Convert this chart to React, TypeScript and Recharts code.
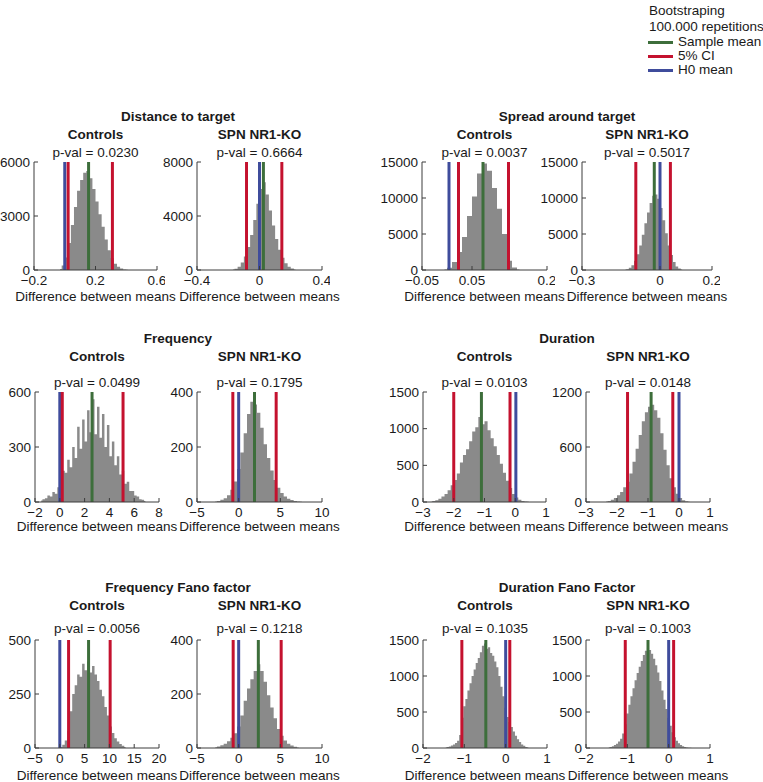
import React from 'react';
import { ComposedChart, Area, XAxis, YAxis, ReferenceLine } from 'recharts';

const FONT = '"Liberation Sans", Arial, Helvetica, sans-serif';
const TEXT = '#1a1a1a';
const AXIS = '#3c3c3c';
const HIST = '#8a8a8a';
const GREEN = '#3d6e3b';
const RED = '#c4122f';
const BLUE = '#3f4c9c';

// bin centres / counts; lines = [H0 mean, CI low, sample mean, CI high]
const distCtrlBins = [-0.03, -0.01, 0.01, 0.03, 0.05, 0.07, 0.09, 0.11, 0.13, 0.15, 0.17, 0.19, 0.21, 0.23, 0.25, 0.27, 0.29, 0.31, 0.33, 0.35, 0.37, 0.39, 0.41];
const distCtrlCounts = [50, 250, 700, 1500, 2500, 3500, 4400, 5000, 5400, 5500, 5100, 4500, 3800, 3100, 2400, 1700, 1100, 650, 350, 180, 80, 30, 10];
const distCtrlLines = [0, 0.022, 0.155, 0.31];

const distKoBins = [-0.17, -0.15, -0.13, -0.11, -0.09, -0.07, -0.05, -0.03, -0.01, 0.01, 0.03, 0.05, 0.07, 0.09, 0.11, 0.13, 0.15, 0.17, 0.19, 0.21, 0.23];
const distKoCounts = [30, 100, 250, 550, 1000, 1700, 2600, 3700, 4900, 6000, 6500, 5600, 4400, 3300, 2300, 1500, 900, 500, 250, 110, 40];
const distKoLines = [0, -0.083, 0.025, 0.143];

const spreadCtrlBins = [-0.005, 0.005, 0.015, 0.025, 0.035, 0.045, 0.055, 0.065, 0.075, 0.085, 0.095, 0.105, 0.115, 0.125, 0.135, 0.145];
const spreadCtrlCounts = [80, 300, 1100, 2500, 4600, 7500, 10200, 13400, 14800, 13800, 11400, 8500, 5000, 1300, 350, 80];
const spreadCtrlLines = [0.004, 0.023, 0.072, 0.123];

const spreadKoBins = [-0.135, -0.125, -0.115, -0.105, -0.095, -0.085, -0.075, -0.065, -0.055, -0.045, -0.035, -0.025, -0.015, -0.005, 0.005, 0.015, 0.025, 0.035, 0.045, 0.055, 0.065, 0.075, 0.085];
const spreadKoCounts = [40, 120, 300, 650, 1300, 2200, 3400, 4900, 6500, 8000, 9300, 10300, 10500, 9900, 8600, 6900, 5100, 3400, 2100, 1100, 500, 200, 60];
const spreadKoLines = [0, -0.093, -0.022, 0.04];

const freqCtrlBins = [-1.5, -1.3, -1.1, -0.9, -0.7, -0.5, -0.3, -0.1, 0.1, 0.3, 0.5, 0.7, 0.9, 1.1, 1.3, 1.5, 1.7, 1.9, 2.1, 2.3, 2.5, 2.7, 2.9, 3.1, 3.3, 3.5, 3.7, 3.9, 4.1, 4.3, 4.5, 4.7, 4.9, 5.1, 5.3, 5.5, 5.7, 5.9, 6.1, 6.3, 6.5, 6.7, 6.9];
const freqCtrlCounts = [8, 15, 20, 35, 30, 55, 45, 80, 110, 170, 160, 230, 190, 300, 240, 410, 290, 450, 330, 500, 380, 560, 370, 520, 350, 480, 300, 420, 250, 330, 200, 250, 150, 170, 100, 110, 60, 60, 35, 30, 15, 12, 5];
const freqCtrlLines = [0, 0.2, 2.6, 5.1];

const freqKoBins = [-2.8, -2.4, -2.0, -1.6, -1.2, -0.8, -0.4, 0, 0.4, 0.8, 1.2, 1.6, 2.0, 2.4, 2.8, 3.2, 3.6, 4.0, 4.4, 4.8, 5.2, 5.6, 6.0, 6.4, 6.8, 7.2, 7.6];
const freqKoCounts = [2, 4, 8, 14, 25, 45, 75, 120, 180, 250, 320, 365, 355, 325, 270, 210, 160, 115, 80, 52, 33, 20, 12, 7, 4, 2, 1];
const freqKoLines = [0, -0.7, 1.9, 4.5];

const durCtrlBins = [-2.75, -2.65, -2.55, -2.45, -2.35, -2.25, -2.15, -2.05, -1.95, -1.85, -1.75, -1.65, -1.55, -1.45, -1.35, -1.25, -1.15, -1.05, -0.95, -0.85, -0.75, -0.65, -0.55, -0.45, -0.35, -0.25, -0.15, -0.05, 0.05, 0.15, 0.25, 0.35, 0.45];
const durCtrlCounts = [5, 12, 25, 45, 75, 110, 160, 230, 300, 390, 540, 640, 720, 830, 960, 1020, 1160, 1060, 1100, 980, 870, 760, 640, 520, 400, 290, 190, 110, 60, 30, 15, 6, 2];
const durCtrlLines = [0.02, -2.0, -1.1, -0.17];

const durKoBins = [-2.35, -2.25, -2.15, -2.05, -1.95, -1.85, -1.75, -1.65, -1.55, -1.45, -1.35, -1.25, -1.15, -1.05, -0.95, -0.85, -0.75, -0.65, -0.55, -0.45, -0.35, -0.25, -0.15, -0.05, 0.05, 0.15, 0.25, 0.35];
const durKoCounts = [5, 12, 25, 45, 75, 110, 160, 220, 310, 440, 580, 730, 880, 980, 1040, 1060, 1000, 920, 750, 570, 400, 260, 160, 90, 45, 20, 8, 3];
const durKoLines = [0, -1.66, -0.9, -0.2];

const ffCtrlBins = [0.25, 0.75, 1.25, 1.75, 2.25, 2.75, 3.25, 3.75, 4.25, 4.75, 5.25, 5.75, 6.25, 6.75, 7.25, 7.75, 8.25, 8.75, 9.25, 9.75, 10.25, 10.75, 11.25, 11.75, 12.25, 12.75, 13.25];
const ffCtrlCounts = [5, 15, 35, 80, 170, 250, 290, 340, 330, 390, 360, 400, 350, 380, 340, 310, 270, 240, 190, 150, 100, 70, 45, 30, 18, 10, 5];
const ffCtrlLines = [0, 1.77, 5.8, 10.15];

const ffKoBins = [-2.8, -2.4, -2.0, -1.6, -1.2, -0.8, -0.4, 0, 0.4, 0.8, 1.2, 1.6, 2.0, 2.4, 2.8, 3.2, 3.6, 4.0, 4.4, 4.8, 5.2, 5.6, 6.0, 6.4, 6.8, 7.2];
const ffKoCounts = [3, 6, 10, 16, 25, 38, 55, 80, 120, 175, 220, 255, 285, 310, 285, 245, 195, 150, 110, 70, 45, 28, 16, 9, 5, 2];
const ffKoLines = [0, -0.66, 2.36, 5.1];

const dffBins = [-1.45, -1.4, -1.35, -1.3, -1.25, -1.2, -1.15, -1.1, -1.05, -1.0, -0.95, -0.9, -0.85, -0.8, -0.75, -0.7, -0.65, -0.6, -0.55, -0.5, -0.45, -0.4, -0.35, -0.3, -0.25, -0.2, -0.15, -0.1, -0.05, 0, 0.05, 0.1, 0.15, 0.2, 0.25, 0.3, 0.35, 0.4, 0.45, 0.5, 0.55];
const dffCtrlCounts = [8, 14, 22, 35, 50, 70, 100, 180, 420, 580, 680, 800, 900, 1000, 1090, 1180, 1250, 1330, 1420, 1450, 1380, 1400, 1320, 1280, 1200, 1120, 1000, 850, 720, 560, 430, 360, 290, 230, 170, 120, 85, 50, 30, 14, 6];
const dffCtrlLines = [0, -1.06, -0.48, 0.1];
const dffKoCounts = [8, 14, 25, 40, 60, 90, 130, 200, 330, 480, 600, 720, 830, 940, 1040, 1130, 1210, 1290, 1350, 1390, 1360, 1310, 1240, 1150, 1050, 930, 800, 670, 540, 420, 310, 220, 150, 100, 65, 40, 24, 14, 8, 4, 2];
const dffKoLines = [0, -1.05, -0.5, 0.12];

const PAD_L = 46;
const PAD_R = 8;
const PAD_T = 6;
const PAD_B = 22;

const fmt = (v: number) => String(v).replace('-', '\u2212');
const blank = () => '';

interface HistProps {
  left: number;
  top: number;
  w: number;
  h: number;
  bins: number[];
  counts: number[];
  xDomain: [number, number];
  xTicks: number[];
  yTicks: number[];
  lines: number[];
}

function Histogram({ left, top, w, h, bins, counts, xDomain, xTicks, yTicks, lines }: HistProps) {
  const data = bins.map((x, i) => ({ x, n: counts[i] }));
  const yDomain: [number, number] = [0, yTicks[yTicks.length - 1]];
  const [h0, lo, mean, hi] = lines;
  const tick = { fill: TEXT, fontSize: 13.5, fontFamily: FONT };
  return (
    <div style={{ position: 'absolute', left: left - PAD_L, top: top - PAD_T }}>
      <ComposedChart
        width={w + PAD_L + PAD_R}
        height={h + PAD_T + PAD_B}
        data={data}
        margin={{ top: PAD_T, right: PAD_R, bottom: 0, left: 0 }}
      >
        <XAxis xAxisId="b" dataKey="x" type="number" domain={xDomain} ticks={xTicks} interval={0}
          allowDataOverflow height={PAD_B} tickSize={-4} tickMargin={9} stroke={AXIS} tick={tick} tickFormatter={fmt} />
        <XAxis xAxisId="t" orientation="top" type="number" domain={xDomain} ticks={xTicks} interval={0}
          allowDataOverflow height={0} tickSize={-4} stroke={AXIS} tickFormatter={blank} />
        <YAxis yAxisId="l" type="number" domain={yDomain} ticks={yTicks} interval={0}
          allowDataOverflow width={PAD_L} tickSize={-4} tickMargin={8} stroke={AXIS} tick={tick} tickFormatter={fmt} />
        <YAxis yAxisId="r" orientation="right" type="number" domain={yDomain} ticks={yTicks} interval={0}
          allowDataOverflow width={0} tickSize={-4} stroke={AXIS} tickFormatter={blank} />
        {/* step curve through the bin centres switches level at the bin edges */}
        <Area xAxisId="b" yAxisId="l" dataKey="n" type="step" baseValue={0} fill={HIST} fillOpacity={1}
          stroke="none" dot={false} activeDot={false} isAnimationActive={false} />
        <ReferenceLine xAxisId="b" yAxisId="l" x={h0} stroke={BLUE} strokeWidth={3} />
        <ReferenceLine xAxisId="b" yAxisId="l" x={lo} stroke={RED} strokeWidth={3} />
        <ReferenceLine xAxisId="b" yAxisId="l" x={hi} stroke={RED} strokeWidth={3} />
        <ReferenceLine xAxisId="b" yAxisId="l" x={mean} stroke={GREEN} strokeWidth={3} />
      </ComposedChart>
    </div>
  );
}

function Txt({ x, y, children, bold }: { x: number; y: number; children: React.ReactNode; bold?: boolean }) {
  return (
    <div style={{
      position: 'absolute', left: x, top: y, transform: 'translate(-50%, -50%)', whiteSpace: 'nowrap',
      fontFamily: FONT, fontSize: 13.5, fontWeight: bold ? 700 : 400, color: TEXT, lineHeight: 1,
    }}>{children}</div>
  );
}

function PanelText({ cx, sub, pval, subY, pY, labelY }: { cx: number; sub: string; pval: string; subY: number; pY: number; labelY: number }) {
  return (
    <>
      <Txt x={cx} y={subY} bold>{sub}</Txt>
      <Txt x={cx} y={pY}>{`p-val = ${pval}`}</Txt>
      <Txt x={cx} y={labelY}>Difference between means</Txt>
    </>
  );
}

function LegendRow({ y, color, label }: { y: number; color: string; label: string }) {
  return (
    <>
      <div style={{ position: 'absolute', left: 648, top: y - 1.5, width: 25, height: 3, background: color }} />
      <div style={{ position: 'absolute', left: 678, top: y, transform: 'translateY(-50%)', fontFamily: FONT, fontSize: 13.5, color: TEXT, lineHeight: 1, whiteSpace: 'nowrap' }}>{label}</div>
    </>
  );
}

export default function App() {
  return (
    <div style={{ position: 'absolute', left: 0, top: 0, width: 763, height: 782, background: '#fff', overflow: 'hidden' }}>
      <div style={{ position: 'absolute', left: 649, top: 3, fontFamily: FONT, fontSize: 13.5, color: TEXT, lineHeight: '16px', whiteSpace: 'nowrap' }}>
        Bootstraping<br />100.000 repetitions
      </div>
      <LegendRow y={42} color={GREEN} label="Sample mean" />
      <LegendRow y={56} color={RED} label="5% CI" />
      <LegendRow y={70} color={BLUE} label="H0 mean" />

      {/* row 1 */}
      <Txt x={178} y={117} bold>Distance to target</Txt>
      <Txt x={567} y={117} bold>Spread around target</Txt>
      <PanelText cx={95.5} sub="Controls" pval="0.0230" subY={135} pY={153} labelY={297} />
      <PanelText cx={259.5} sub="SPN NR1-KO" pval="0.6664" subY={135} pY={153} labelY={297} />
      <PanelText cx={484.5} sub="Controls" pval="0.0037" subY={135} pY={153} labelY={297} />
      <PanelText cx={647} sub="SPN NR1-KO" pval="0.5017" subY={135} pY={153} labelY={297} />
      <Histogram left={34} top={162} w={123} h={108} bins={distCtrlBins} counts={distCtrlCounts}
        xDomain={[-0.2, 0.6]} xTicks={[-0.2, 0.2, 0.6]} yTicks={[0, 3000, 6000]} lines={distCtrlLines} />
      <Histogram left={197} top={162} w={125} h={108} bins={distKoBins} counts={distKoCounts}
        xDomain={[-0.4, 0.4]} xTicks={[-0.4, 0, 0.4]} yTicks={[0, 4000, 8000]} lines={distKoLines} />
      <Histogram left={422} top={162} w={125} h={108} bins={spreadCtrlBins} counts={spreadCtrlCounts}
        xDomain={[-0.05, 0.2]} xTicks={[-0.05, 0.05, 0.2]} yTicks={[0, 5000, 10000, 15000]} lines={spreadCtrlLines} />
      <Histogram left={582} top={162} w={130} h={108} bins={spreadKoBins} counts={spreadKoCounts}
        xDomain={[-0.3, 0.2]} xTicks={[-0.3, 0, 0.2]} yTicks={[0, 5000, 10000, 15000]} lines={spreadKoLines} />

      {/* row 2 */}
      <Txt x={178} y={339} bold>Frequency</Txt>
      <Txt x={567} y={339} bold>Duration</Txt>
      <PanelText cx={97} sub="Controls" pval="0.0499" subY={357} pY={383} labelY={527} />
      <PanelText cx={259.5} sub="SPN NR1-KO" pval="0.1795" subY={357} pY={383} labelY={527} />
      <PanelText cx={484.5} sub="Controls" pval="0.0103" subY={357} pY={383} labelY={527} />
      <PanelText cx={648} sub="SPN NR1-KO" pval="0.0148" subY={357} pY={383} labelY={527} />
      <Histogram left={35} top={392} w={124} h={110} bins={freqCtrlBins} counts={freqCtrlCounts}
        xDomain={[-2, 8]} xTicks={[-2, 0, 2, 4, 6, 8]} yTicks={[0, 300, 600]} lines={freqCtrlLines} />
      <Histogram left={197} top={392} w={125} h={110} bins={freqKoBins} counts={freqKoCounts}
        xDomain={[-5, 10]} xTicks={[-5, 0, 5, 10]} yTicks={[0, 200, 400]} lines={freqKoLines} />
      <Histogram left={423} top={392} w={123} h={110} bins={durCtrlBins} counts={durCtrlCounts}
        xDomain={[-3, 1]} xTicks={[-3, -2, -1, 0, 1]} yTicks={[0, 500, 1000, 1500]} lines={durCtrlLines} />
      <Histogram left={586} top={392} w={124} h={110} bins={durKoBins} counts={durKoCounts}
        xDomain={[-3, 1]} xTicks={[-3, -2, -1, 0, 1]} yTicks={[0, 600, 1200]} lines={durKoLines} />

      {/* row 3 */}
      <Txt x={178} y={588} bold>Frequency Fano factor</Txt>
      <Txt x={567} y={588} bold>Duration Fano Factor</Txt>
      <PanelText cx={97} sub="Controls" pval="0.0056" subY={606} pY={629} labelY={776} />
      <PanelText cx={259.5} sub="SPN NR1-KO" pval="0.1218" subY={606} pY={629} labelY={776} />
      <PanelText cx={485} sub="Controls" pval="0.1035" subY={606} pY={629} labelY={776} />
      <PanelText cx={648} sub="SPN NR1-KO" pval="0.1003" subY={606} pY={629} labelY={776} />
      <Histogram left={35} top={640} w={124} h={108} bins={ffCtrlBins} counts={ffCtrlCounts}
        xDomain={[-5, 20]} xTicks={[-5, 0, 5, 10, 15, 20]} yTicks={[0, 250, 500]} lines={ffCtrlLines} />
      <Histogram left={197} top={640} w={125} h={108} bins={ffKoBins} counts={ffKoCounts}
        xDomain={[-5, 10]} xTicks={[-5, 0, 5, 10]} yTicks={[0, 200, 400]} lines={ffKoLines} />
      <Histogram left={423} top={640} w={124} h={108} bins={dffBins} counts={dffCtrlCounts}
        xDomain={[-2, 1]} xTicks={[-2, -1, 0, 1]} yTicks={[0, 500, 1000, 1500]} lines={dffCtrlLines} />
      <Histogram left={586} top={640} w={124} h={108} bins={dffBins} counts={dffKoCounts}
        xDomain={[-2, 1]} xTicks={[-2, -1, 0, 1]} yTicks={[0, 500, 1000, 1500]} lines={dffKoLines} />
    </div>
  );
}
